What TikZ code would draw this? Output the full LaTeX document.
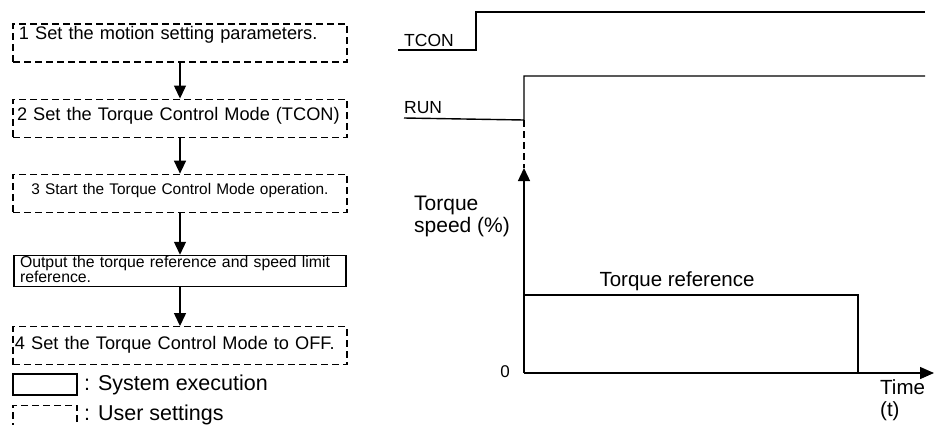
\documentclass[tikz,border=0pt]{standalone}
\usepackage{fontspec}
\setmainfont{Liberation Sans}
\usetikzlibrary{arrows.meta,positioning}

\tikzset{
  usr/.style={draw,line width=1.1pt,dash pattern=on 7pt off 4pt,minimum height=38pt,inner xsep=6pt,inner ysep=0pt,text width=322pt,align=left,text height=14pt,font=\fontsize{18.2}{21}\selectfont},
  sys/.style={draw,line width=1.3pt,minimum height=31pt,inner xsep=6pt,inner ysep=0pt,text width=320pt,align=left,font=\fontsize{15.8}{15}\selectfont},
  sig/.style={line width=1.4pt},
  lbl/.style={inner sep=0pt,font=\fontsize{17.5}{20}\selectfont},
  big/.style={inner sep=0pt,align=left,font=\fontsize{20.5}{22}\selectfont}
}

\begin{document}
\begin{tikzpicture}[x=1pt,y=-1pt,>={Triangle[length=13pt,width=12pt]}]
 \clip (0,0) rectangle (935,424);
 % flow of the steps
 \node[usr,text depth=21pt] (s1) at (180,43) {1 Set the motion setting parameters.};
 \node[usr,text depth=9pt,inner xsep=4pt,text width=326pt,below=36pt of s1] (s2) {\mbox{2 Set the Torque Control Mode (TCON)}};
 \node[usr,text depth=12pt,align=center,font=\fontsize{15.4}{18}\selectfont,below=36pt of s2] (s3) {3 Start the Torque Control Mode operation.};
 \node[sys,text depth=19pt,below=42pt of s3] (out) {Output the torque reference and speed limit\\reference.};
 \node[usr,text depth=6pt,inner xsep=2pt,text width=330pt,below=39pt of out] (s4) {4 Set the Torque Control Mode to OFF.};
 \draw[->,line width=1.3pt] (s1) -- (s2);
 \draw[->,line width=1.3pt] (s2) -- (s3);
 \draw[->,line width=1.3pt] (s3) -- (out);
 \draw[->,line width=1.3pt] (out) -- (s4);
 % legend
 \node[draw,line width=1.3pt,minimum width=64pt,minimum height=21pt,inner sep=0pt] (lsys) at (45,384.5) {};
 \node[draw,line width=1.1pt,dash pattern=on 7pt off 4pt,minimum width=64pt,minimum height=30pt,inner sep=0pt,below=9pt of lsys] (lusr) {};
 \node[anchor=base west,inner sep=0pt,font=\fontsize{21.5}{24}\selectfont] (tsys) at (84,390) {: System execution};
 \node[anchor=base west,inner sep=0pt,font=\fontsize{21.5}{24}\selectfont] (tusr) at (84,420) {: User settings};

 % signals
 \coordinate (t0) at (398,50); \coordinate (t1) at (476,50);
 \coordinate (t2) at (476,12); \coordinate (t3) at (925,12);
 \draw[sig] (t0) -- (t1) -- (t2) -- (t3);
 \node[lbl,anchor=base west] (tcon) at (404,46) {TCON};
 \coordinate (r0) at (404,118); \coordinate (r1) at (524,120);
 \coordinate (r2) at (524,76); \coordinate (r3) at (925,76);
 \draw[sig] (r0) -- (r1) -- (r2) -- (r3);
 \node[lbl,anchor=base west] (run) at (404,113) {RUN};

 % torque graph
 \coordinate (o) at (524,373);
 \coordinate (ytop) at (524,168);
 \coordinate (xend) at (934,373);
 \draw[dash pattern=on 7pt off 4pt,line width=1.2pt] (r1) -- (ytop);
 \draw[->,line width=1.4pt] (o) -- (ytop);
 \draw[->,line width=1.4pt,>={Triangle[length=14pt,width=12pt]}] (o) -- (xend);
 \coordinate (q0) at (524,295); \coordinate (q1) at (858,295); \coordinate (q2) at (858,373);
 \draw[line width=2.2pt] (q0) -- (q1) -- (q2);
 \node[big] (tref) at (677,281) {Torque reference};
 \node[big,anchor=north west,font=\fontsize{21}{22}\selectfont] (yl) at (414,196) {Torque\\speed (\%)};
 \node[lbl,font=\fontsize{17}{20}\selectfont] (zero) at (505,372) {0};
 \node[big,anchor=north west] (xl) at (880,379) {Time\\(t)};
\end{tikzpicture}
\end{document}
